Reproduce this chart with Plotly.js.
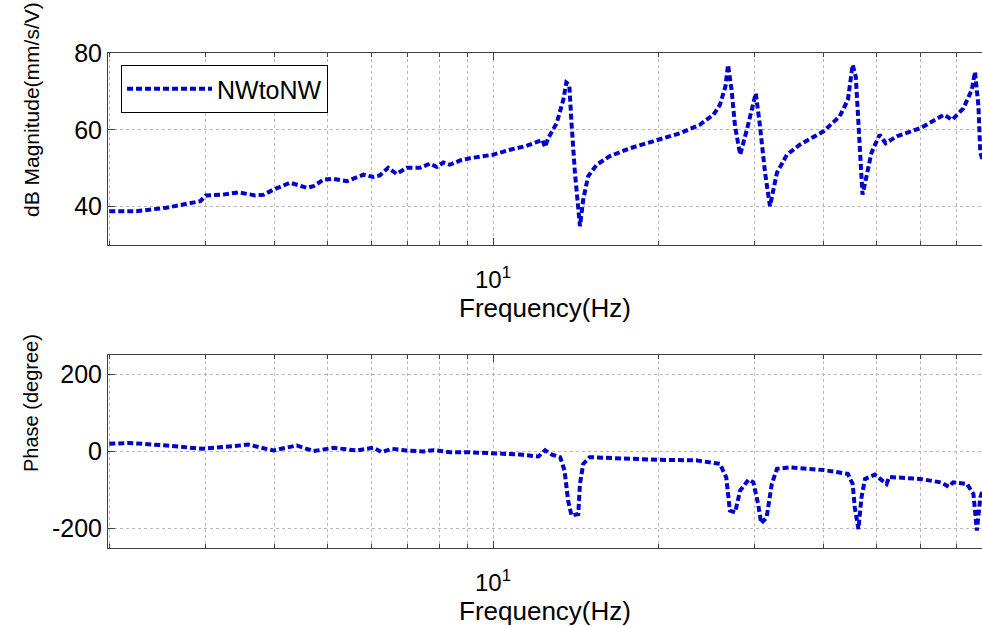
<!DOCTYPE html>
<html>
<head>
<meta charset="utf-8">
<script src="https://cdn.plot.ly/plotly-3.0.1.min.js"></script>
<style>
  html, body { margin: 0; padding: 0; background: #ffffff; }
  #chart { width: 982px; height: 627px; }
</style>
</head>
<body>
<div id="chart"></div>
<script>
// ---- data ----
const seriesName = "NWtoNW";

const freqMag = [2.0, 2.24, 2.54, 2.81, 2.93, 3.0, 3.22, 3.44, 3.69, 3.82, 3.98, 4.27, 4.58, 4.71, 4.91, 5.12, 5.42, 5.81, 6.05, 6.22, 6.44, 6.67, 6.96, 7.36, 7.68, 7.90, 8.12, 8.35, 8.71, 9.08, 9.34, 9.74, 10.0, 10.74, 11.5, 12.0, 12.3, 12.44, 12.6, 13.06, 13.43, 13.6, 13.77, 13.9, 14.1, 14.4, 14.6, 14.9, 15.45, 16.3, 17.77, 20.0, 21.9, 23.8, 25.2, 25.9, 26.5, 26.8, 27.2, 27.6, 28.2, 29.0, 29.8, 30.1, 30.6, 31.3, 31.95, 32.9, 34.3, 36.2, 40.0, 42.8, 44.3, 45.2, 45.8, 46.4, 47.1, 47.9, 48.9, 50.6, 51.9, 54.4, 60.0, 66.3, 68.6, 71.9, 74.5, 75.5, 76.6, 77.2, 78.0];
const magDb = [38.8, 38.8, 39.7, 40.8, 41.4, 42.9, 43.1, 43.7, 42.9, 43.1, 44.4, 46.2, 44.9, 45.3, 47.0, 47.2, 46.6, 48.3, 47.7, 48.1, 50.1, 48.5, 50.1, 50.1, 51.2, 50.3, 51.5, 50.9, 52.0, 52.6, 52.9, 53.1, 53.5, 54.8, 55.8, 56.8, 57.4, 55.5, 57.8, 61.7, 67.8, 72.3, 71.7, 61.7, 48.8, 34.9, 41.8, 47.9, 50.9, 53.1, 55.2, 57.4, 59.1, 61.3, 63.9, 66.5, 71.2, 76.9, 70.4, 60.9, 53.5, 60.0, 66.9, 69.5, 61.7, 48.8, 40.1, 48.8, 53.5, 56.1, 59.6, 63.5, 67.8, 76.9, 73.8, 57.4, 43.1, 47.9, 54.0, 58.7, 56.5, 58.3, 60.4, 63.9, 62.6, 65.6, 70.4, 75.1, 66.1, 54.0, 52.0];

const freqPh = [2.0, 2.18, 2.54, 2.96, 3.37, 3.58, 3.98, 4.39, 4.71, 5.12, 5.64, 6.05, 6.27, 6.54, 6.96, 7.46, 7.8, 8.35, 9.0, 10.0, 11.2, 12.1, 12.44, 12.8, 13.25, 13.5, 13.7, 13.9, 14.3, 14.4, 14.6, 15.0, 17.8, 20.0, 23.5, 25.9, 26.6, 27.0, 27.6, 28.2, 29.2, 29.8, 30.4, 30.8, 31.5, 32.2, 32.9, 34.7, 40.0, 44.3, 45.2, 45.6, 46.3, 46.9, 47.6, 49.6, 52.1, 52.7, 60.0, 65.4, 67.6, 68.9, 73.0, 75.0, 76.1, 77.2, 78.0];
const phaseDeg = [20, 22, 15.6, 7, 13.8, 18, 2.6, 15.6, 1, 9.6, 2.6, 9.6, -1.7, 7, 2.6, 0, 3.5, -1.7, -1.7, -4.3, -7.8, -13, 3, -8, -14.7, -49, -127, -166, -162, -84, -32, -14.7, -19, -21.6, -23, -32, -67, -153, -158, -101, -73, -80, -136, -186, -171, -84, -45, -41, -48, -58, -84, -145, -201, -119, -71, -60, -84, -66, -71, -80, -91, -80, -84, -110, -205, -119, -100];

const majorTicks = [10];
const majorTickText = ["10<sup>1</sup>"];
const minorTicks = [2, 3, 4, 5, 6, 7, 8, 9, 20, 30, 40, 50, 60, 70];
const magTicks = [40, 60, 80];
const magTickText = ["40", "60", "80"];
const phaseTicks = [-200, 0, 200];
const phaseTickText = ["-200", "0", "200"];

// ---- styling ----
const FONT = "Liberation Sans, Arial, sans-serif";
const lineColor = "#0000cc";
const axisColor = "#404040";
const gridColor = "#b8b8b8";

const lineStyle = { color: lineColor, width: 4, dash: "6px,3px" };

const traces = [
  { x: freqMag, y: magDb, type: "scatter", mode: "lines", name: seriesName,
    line: lineStyle, xaxis: "x", yaxis: "y", showlegend: true },
  { x: freqPh, y: phaseDeg, type: "scatter", mode: "lines", name: seriesName,
    line: lineStyle, xaxis: "x2", yaxis: "y2", showlegend: false }
];

function xAxis(anchor) {
  return {
    type: "log",
    anchor: anchor,
    domain: [0, 1],
    range: [0.2987, 1.8907],
    tickmode: "array",
    tickvals: majorTicks,
    ticktext: majorTickText,
    ticks: "inside",
    ticklen: 7,
    tickcolor: axisColor,
    ticklabelstandoff: 13,
    tickfont: { family: FONT, size: 24, color: "#000" },
    showgrid: true,
    gridcolor: gridColor,
    griddash: "dot",
    gridwidth: 1,
    minor: {
      tickmode: "array",
      tickvals: minorTicks,
      ticks: "inside",
      ticklen: 4,
      tickcolor: axisColor,
      showgrid: true,
      gridcolor: gridColor,
      griddash: "dot",
      gridwidth: 1
    },
    showline: true,
    linecolor: axisColor,
    linewidth: 1,
    mirror: "allticks",
    zeroline: false,
    title: { text: "Frequency(Hz)", font: { family: FONT, size: 26, color: "#000" }, standoff: 2 }
  };
}

function yAxis(anchor, domain, range, ticks, tickText) {
  return {
    anchor: anchor,
    domain: domain,
    range: range,
    tickmode: "array",
    tickvals: ticks,
    ticktext: tickText,
    ticks: "inside",
    ticklen: 7,
    tickcolor: axisColor,
    tickfont: { family: FONT, size: 25, color: "#000" },
    showgrid: true,
    gridcolor: gridColor,
    griddash: "dot",
    gridwidth: 1,
    showline: true,
    linecolor: axisColor,
    linewidth: 1,
    zeroline: false
  };
}

const layout = {
  width: 982,
  height: 627,
  margin: { l: 108, r: 0, t: 0, b: 0 },
  paper_bgcolor: "#ffffff",
  plot_bgcolor: "#ffffff",
  font: { family: FONT, color: "#000" },
  xaxis: xAxis("y"),
  yaxis: yAxis("x", [0.6093, 0.9155], [30, 80], magTicks, magTickText),
  xaxis2: xAxis("y2"),
  yaxis2: yAxis("x2", [0.1260, 0.4338], [-250, 250], phaseTicks, phaseTickText),
  showlegend: true,
  legend: {
    x: 0.0149, y: 0.8963, xanchor: "left", yanchor: "top",
    bgcolor: "#ffffff", bordercolor: "#000000", borderwidth: 1,
    font: { family: FONT, size: 25, color: "#000" },
    itemwidth: 85
  },
  annotations: [
    { text: "dB Magnitude(mm/s/V)", textangle: -90, xref: "paper", yref: "paper",
      x: 0, y: 1 - 110 / 627, xshift: -77, xanchor: "center", yanchor: "middle",
      showarrow: false, font: { family: FONT, size: 21, color: "#000" } },
    { text: "Phase (degree)", textangle: -90, xref: "paper", yref: "paper",
      x: 0, y: 1 - 403 / 627, xshift: -77, xanchor: "center", yanchor: "middle",
      showarrow: false, font: { family: FONT, size: 20, color: "#000" } }
  ]
};

Plotly.newPlot("chart", traces, layout, { displayModeBar: false, staticPlot: true });
</script>
</body>
</html>
